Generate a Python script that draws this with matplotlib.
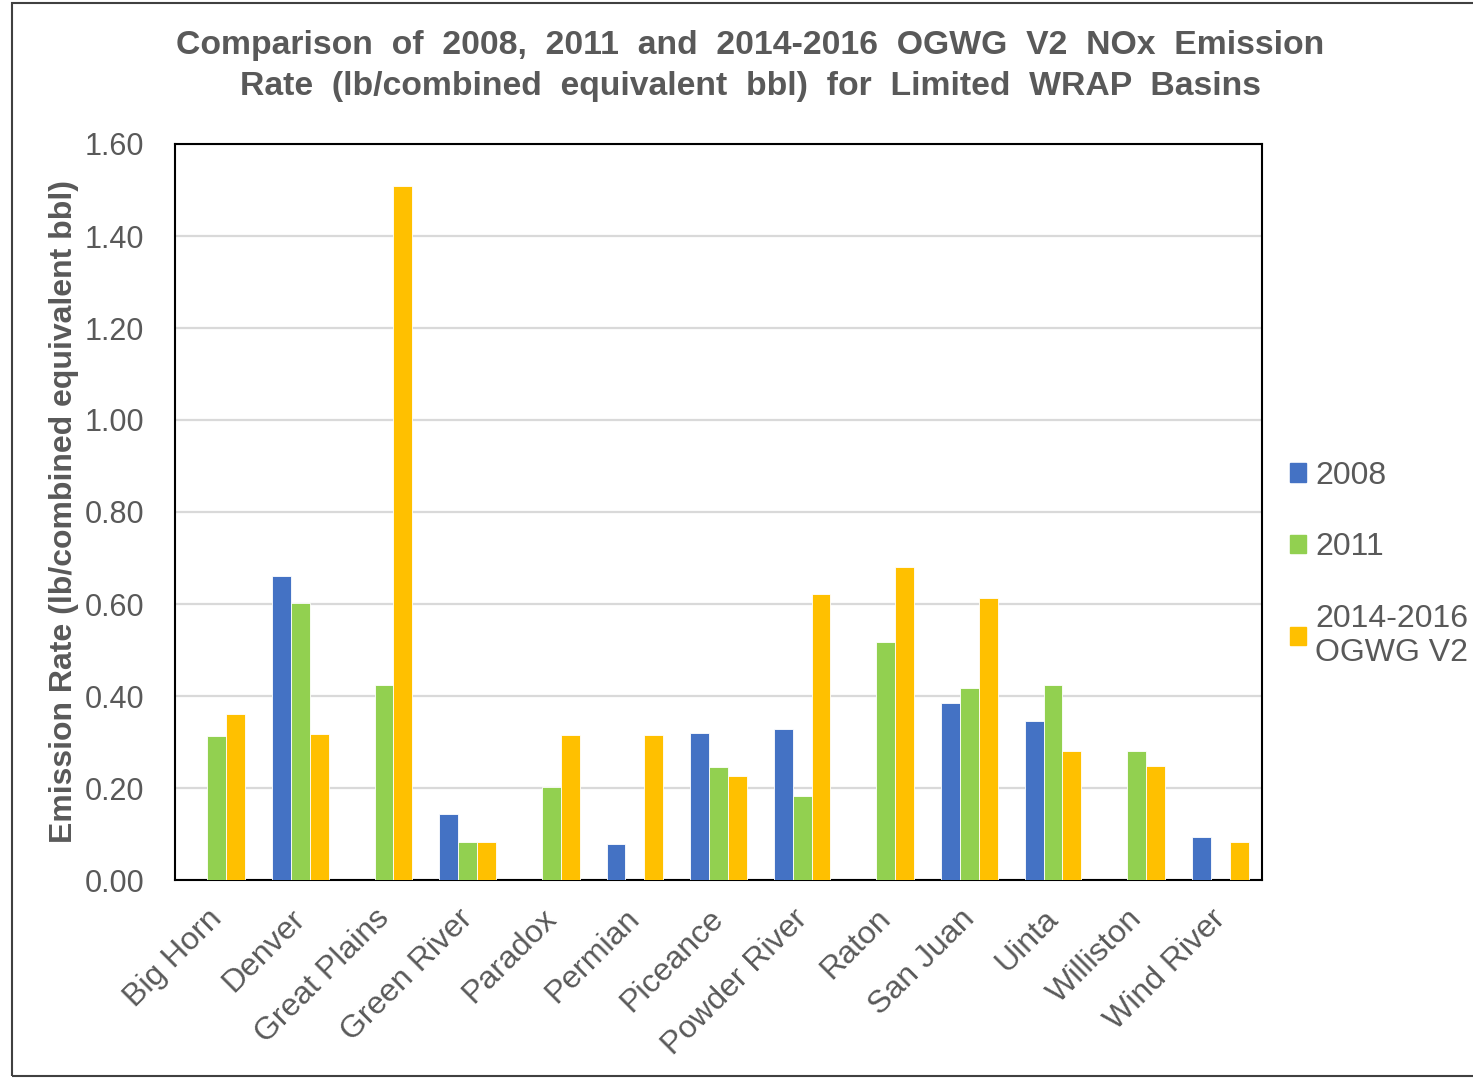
import numpy as np
import matplotlib
matplotlib.use("Agg")
import matplotlib.pyplot as plt
import matplotlib.transforms as mtransforms
from matplotlib.patches import Patch, Rectangle

plt.rcParams['font.family'] = ['Liberation Sans', 'DejaVu Sans']

basins = ["Big Horn", "Denver", "Great Plains", "Green River", "Paradox", "Permian",
          "Piceance", "Powder River", "Raton", "San Juan", "Uinta", "Williston", "Wind River"]
nan = np.nan
rate_2008 = [nan, 0.661, nan, 0.143, nan, 0.078, 0.320, 0.328, nan, 0.385, 0.346, nan, 0.093]
rate_2011 = [0.313, 0.602, 0.424, 0.083, 0.202, nan, 0.246, 0.183, 0.517, 0.417, 0.424, 0.280, nan]
rate_2014 = [0.361, 0.317, 1.509, 0.083, 0.315, 0.315, 0.226, 0.622, 0.680, 0.613, 0.280, 0.248, 0.083]
series_names = ["2008", "2011", "2014-2016\nOGWG V2"]
colors = ["#4472C4", "#92D050", "#FFC000"]
yticks = [0.0, 0.2, 0.4, 0.6, 0.8, 1.0, 1.2, 1.4, 1.6]

txt = "#595959"
fig = plt.figure(figsize=(14.73, 10.79), dpi=100)
ax = fig.add_axes([175/1473, 1 - 880/1079, (1262-175)/1473, (880-144)/1079])

x = np.arange(len(basins))
w = 0.226
for i, (vals, c) in enumerate(zip([rate_2008, rate_2011, rate_2014], colors)):
    ax.bar(x + (i - 1) * w, vals, width=w, color=c, edgecolor="white", linewidth=0.6, zorder=3)

ax.set_xlim(-0.5, len(basins) - 0.5)
ax.set_ylim(0, 1.6)
ax.set_yticks(yticks)
ax.set_yticklabels([f"{v:.2f}" for v in yticks])
ax.set_xticks(x)
ax.set_xticklabels(basins, rotation=45, ha="right", va="top", rotation_mode="anchor")
ax.tick_params(axis="both", length=0, labelsize=22, colors=txt)
ax.tick_params(axis="x", labelsize=23)
ax.tick_params(axis="y", pad=22)
ax.tick_params(axis="x", pad=17)
shift = mtransforms.ScaledTranslation(-10/100, 0, fig.dpi_scale_trans)
for lab in ax.get_xticklabels():
    lab.set_transform(lab.get_transform() + shift)
ax.grid(axis="y", color="#d9d9d9", linewidth=1.6, zorder=0)
for s in ax.spines.values():
    s.set_color("black")
    s.set_linewidth(1.5)

ax.set_ylabel("Emission Rate (lb/combined equivalent bbl)", fontsize=23, fontweight="bold",
              color=txt, labelpad=4)

fig.text(750/1473, 1 - 66/1079,
         "Comparison  of  2008,  2011  and  2014-2016  OGWG  V2  NOx  Emission\n"
         "Rate  (lb/combined  equivalent  bbl)  for  Limited  WRAP  Basins",
         ha="center", va="center", fontsize=24.3, fontweight="bold", color=txt, linespacing=1.4)

handles = [Patch(color=c) for c in colors]
fig.legend(handles, series_names, loc="upper left", bbox_to_anchor=(1277/1473, 1 - 448/1079),
           frameon=False, fontsize=23, labelcolor=txt, handlelength=0.5, handleheight=0.5,
           handletextpad=0.3, labelspacing=1.3, borderaxespad=0)

fig.patches.append(Rectangle((12/1473, 3/1079), 1.2, 1073/1079, transform=fig.transFigure,
                             fill=False, edgecolor="#404040", linewidth=1.5))

fig.savefig("out.png", dpi=100)
